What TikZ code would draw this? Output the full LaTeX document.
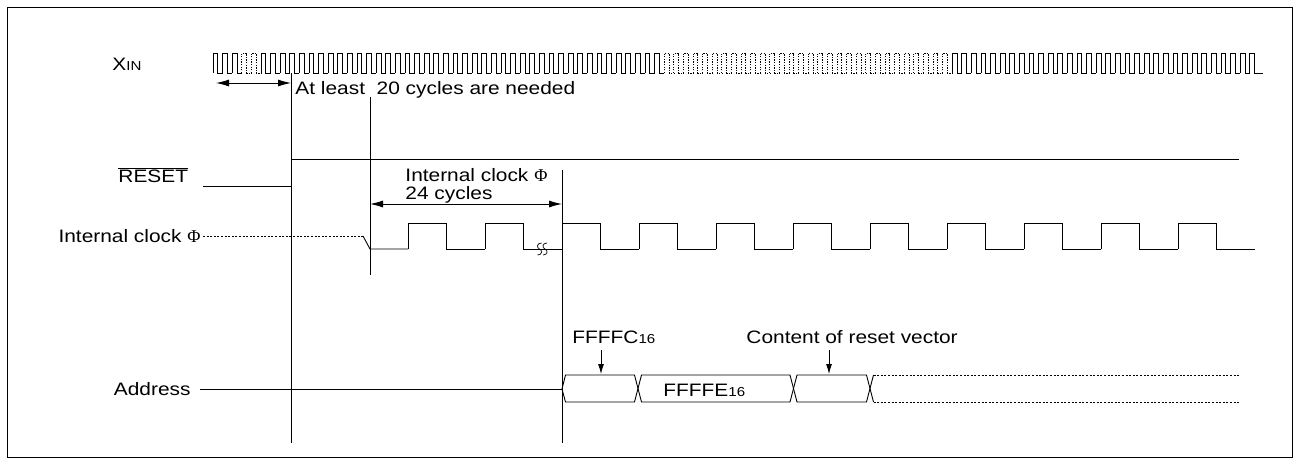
\documentclass[tikz,border=0pt]{standalone}
\usepackage[no-math]{fontspec}
\setmainfont{Liberation Sans}[FakeStretch=1.16]
\newfontfamily\phifont{Liberation Serif}
\usetikzlibrary{arrows.meta}

\newcommand\phisym{{\phifont Φ}}
\newcommand\smallsub[1]{{\fontsize{13}{13}\selectfont #1}}

\begin{document}
\begin{tikzpicture}[x=1pt,y=-1pt,line width=0.9pt,
  every node/.style={inner sep=0pt,font=\fontsize{18}{20}\selectfont},
  lbl/.style={anchor=base west},
  dimarrow/.style={{Latex[length=13pt,width=7pt]}-{Latex[length=13pt,width=7pt]}},
  downarrow/.style={-{Latex[length=10pt,width=6pt]}},
  dots/.style={dash pattern=on 2pt off 1.6pt,line width=0.7pt},
  fine/.style={dash pattern=on 1.3pt off 1.3pt,line width=0.7pt}]

\useasboundingbox (0,0) rectangle (1299,464);
\draw[line width=0.8pt] (7,7) rectangle (1292,457);

% labels
\node[lbl] (xin) at (112,70) {X\smallsub{IN}};
\node[lbl] (reset) at (118,182) {$\overline{\mbox{RESET}}$};
\node[anchor=east] (phil) at (201,236) {Internal clock \phisym};
\node[anchor=east] (addr) at (191,389) {Address};

\node[lbl] (least) at (295,94) {At least\ \ 20 cycles are needed};
\node[lbl] (phitop) at (405,181) {Internal clock \phisym};
\node[lbl] (cyc) at (405,199) {24 cycles};
\node[lbl] (fc) at (572,343) {FFFFC\smallsub{16}};
\node[lbl] (crv) at (746,343) {Content of reset vector};
\node[lbl] (fe) at (663,396) {FFFFE\smallsub{16}};

% XIN
\foreach \i in {0,...,108}{
  \pgfmathsetmacro\xa{213+\i*9.6}
  \pgfmathtruncatemacro\isdot{((\xa>235 && \xa<252) || (\xa>658 && \xa<948)) ? 1 : 0}
  \ifnum\isdot=1 \def\wst{fine}\else\def\wst{solid}\fi
  \draw[\wst,line width=0.8pt] (\xa,73) -- (\xa,53) -- ++(4.8,0) -- ++(0,20) -- ++(4.8,0);
}
\draw[line width=0.8pt] (1259.4,73) -- (1263,73);

% time marks
\draw (291,73) -- (291,443);
\draw (370,97) -- (370,275);
\draw (562,170) -- (562,443);

\coordinate (a1) at (216,83);
\coordinate (a2) at (291,83);
\draw[dimarrow] (a1) -- (a2);
\coordinate (b1) at (370,204);
\coordinate (b2) at (562,204);
\draw[dimarrow] (b1) -- (b2);

% RESET
\draw (203,186) -- (291,186) -- (291,159) -- (1239,159);

% internal clock
\draw[dots] (phil.east) ++(2,0) -- (363,236);
\draw (363,236) -- (370,249) -- (408,249);
\foreach \x in {408,485}
  \draw (\x,249) -- (\x,223) -- ++(38.5,0) -- ++(0,26) -- ++(38.5,0);
\draw (523,249) -- (537,249);
\draw (548,249) -- (562,249);
\foreach \x in {539.5,545}
  \draw[line width=0.7pt] (\x+2,243) .. controls (\x-3,243) and (\x-3,248) .. (\x,249)
    .. controls (\x+3,250) and (\x+3,255) .. (\x-2,255);
\foreach \k in {0,...,8}
  \draw (562+\k*77,249) -- (562+\k*77,223) -- ++(38.5,0) -- ++(0,26) -- ++(38.5,0);

% address
\draw ([xshift=9pt]addr.east) -- (562,389);
\draw (562,389) -- (565.5,375) -- (634.5,375) -- (641.5,402) -- (790,402) -- (797,375) -- (866.5,375) -- (873.5,402);
\draw (562,389) -- (565.5,402) -- (634.5,402) -- (641.5,375) -- (790,375) -- (797,402) -- (866.5,402) -- (873.5,375);
\draw[dots] (873.5,375) -- (1240,375);
\draw[dots] (873.5,402) -- (1240,402);

\coordinate (c1) at (601,350);
\coordinate (c2) at (601,374);
\draw[downarrow] (c1) -- (c2);
\coordinate (d1) at (829,350);
\coordinate (d2) at (829,374);
\draw[downarrow] (d1) -- (d2);
\end{tikzpicture}
\end{document}
